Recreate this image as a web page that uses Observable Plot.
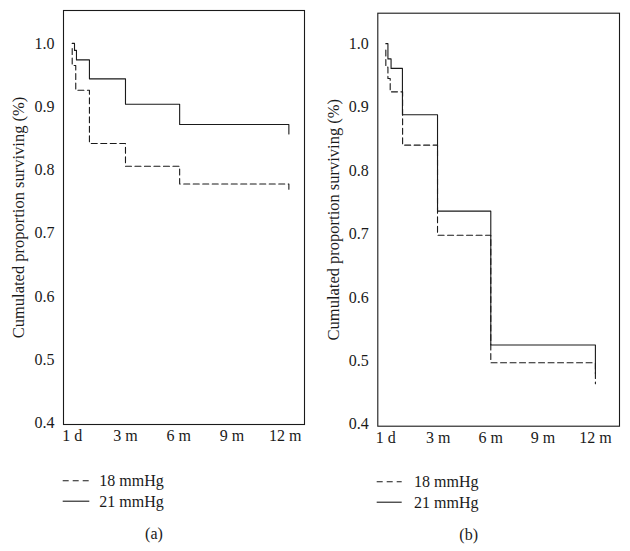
<!DOCTYPE html>
<html><head><meta charset="utf-8">
<script src="https://cdn.jsdelivr.net/npm/d3@7"></script>
<script src="https://cdn.jsdelivr.net/npm/@observablehq/plot@0.6"></script>
<style>
body{margin:0;background:#fff;font-family:"Liberation Serif",serif;}
#root{position:relative;width:630px;height:551px;overflow:hidden;background:#fff}
.panel{position:absolute;top:0}
#overlay{position:absolute;left:0;top:0}
</style></head><body><div id="root"></div>
<script>
const tickMonths=[0,3,6,9,12];
const tickLabels=["1 d","3 m","6 m","9 m","12 m"];
const yTicks=[0.4,0.5,0.6,0.7,0.8,0.9,1.0];
const seriesNames=["18 mmHg","21 mmHg"];
const panelNames=["(a)","(b)"];
const yLabel="Cumulated proportion surviving (%)";

// Panel (a)
const a18Months=[0,0,0.2,0.97,3.0,6.05,12.2];
const a18Surv=[0.992,0.965,0.926,0.842,0.806,0.778,0.765];
const a21Months=[0,0.13,0.24,0.97,3.0,6.05,12.2];
const a21Surv=[1.0,0.989,0.974,0.944,0.904,0.872,0.857];
// Panel (b)
const b18Months=[0,0,0.12,0.25,0.96,2.96,6.01,12.0];
const b18Surv=[0.99,0.963,0.945,0.924,0.84,0.698,0.497,0.464];
const b21Months=[0,0.12,0.3,0.95,2.96,6.01,12.0];
const b21Surv=[1.0,0.976,0.961,0.888,0.736,0.525,0.48];

const ink="#1a1a1a";
const dash="6,3.5";
const rows=(m,s)=>m.map((t,i)=>({t,s:s[i]}));

function panel(r18,r21,o){
  const svg=Plot.plot({
    width:315,height:445,
    marginLeft:o.ml,marginRight:o.mr,marginTop:o.mt,marginBottom:o.mb,
    style:{fontFamily:"'Liberation Serif',serif",fontSize:"16px",color:ink,background:"transparent",overflow:"visible"},
    x:{domain:o.xd,ticks:tickMonths,tickFormat:d=>tickLabels[tickMonths.indexOf(d)],tickSize:0,tickPadding:5,label:null},
    y:{domain:o.yd,ticks:yTicks,tickFormat:d3.format(".1f"),tickSize:0,tickPadding:9,label:yLabel,labelAnchor:"center",labelArrow:"none",labelOffset:51},
    marks:[
      Plot.frame({stroke:ink,strokeWidth:1.1}),
      Plot.line(r18,{x:"t",y:"s",curve:"step-after",stroke:ink,strokeWidth:1.1,strokeDasharray:dash}),
      Plot.line(r21,{x:"t",y:"s",curve:"step-after",stroke:ink,strokeWidth:1.1})
    ]
  });
  return svg;
}

const root=document.getElementById("root");
const pa=panel(rows(a18Months,a18Surv),rows(a21Months,a21Surv),{ml:63,mr:11,mt:10,mb:21,xd:[-0.49,13.08],yd:[0.398,1.052]});
pa.classList.add("panel");pa.style.left="0px";root.appendChild(pa);
const pb=panel(rows(b18Months,b18Surv),rows(b21Months,b21Surv),{ml:62.3,mr:11,mt:12.7,mb:19.3,xd:[-0.46,13.38],yd:[0.397,1.048]});
pb.classList.add("panel");pb.style.left="315px";root.appendChild(pb);
// slightly larger axis title, as in the reference
d3.selectAll(".panel g[aria-label='y-axis label'] text, .panel g[aria-label='y-axis label']").style("font-size","16.5px");

// legends and captions
const ov=d3.select(root).append("svg").attr("id","overlay").attr("width",630).attr("height",551)
  .style("font-family","'Liberation Serif',serif").style("font-size","16px").attr("fill",ink);
const legendSpecs=[{x0:62.7,x1:89.3,tx:99.3,y:480.7,cap:154},{x0:376.7,x1:401.7,tx:414,y:481.7,cap:468.7}];
legendSpecs.forEach((L,p)=>{
  seriesNames.forEach((name,i)=>{
    const y=L.y+i*20.5;
    ov.append("line").attr("x1",L.x0).attr("x2",L.x1).attr("y1",y).attr("y2",y)
      .attr("stroke",ink).attr("stroke-width",1.1).attr("stroke-dasharray",i===0?"6,4":null);
    ov.append("text").attr("x",L.tx).attr("y",y+5.5).text(name);
  });
  ov.append("text").attr("x",L.cap).attr("y",539+p).attr("text-anchor","middle").text(panelNames[p]);
});
</script></body></html>
